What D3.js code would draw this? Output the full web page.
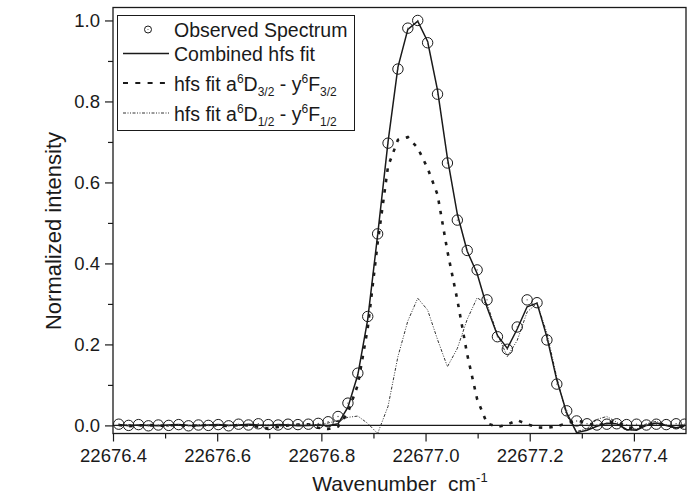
<!DOCTYPE html>
<html>
<head>
<meta charset="utf-8">
<script src="https://cdn.jsdelivr.net/npm/d3@7/dist/d3.min.js"></script>
<style>
  html, body { margin: 0; padding: 0; background: #fff; }
  svg { display: block; font-family: "Liberation Sans", Arial, sans-serif; }
</style>
</head>
<body>
<svg id="chart" width="695" height="502"></svg>
<script>
// Wavenumber grid (cm^-1) shared by the measurement and the fits
const wavenumber = [
  22676.411, 22676.430, 22676.449, 22676.468, 22676.487, 22676.507, 22676.526, 22676.545,
  22676.564, 22676.583, 22676.602, 22676.622, 22676.641, 22676.660, 22676.679, 22676.698,
  22676.717, 22676.736, 22676.755, 22676.775, 22676.794, 22676.813, 22676.832, 22676.851,
  22676.870, 22676.889, 22676.908, 22676.928, 22676.947, 22676.966, 22676.985, 22677.004,
  22677.023, 22677.042, 22677.061, 22677.080, 22677.099, 22677.118, 22677.138, 22677.157,
  22677.176, 22677.195, 22677.214, 22677.233, 22677.252, 22677.271, 22677.290, 22677.310,
  22677.329, 22677.348, 22677.367, 22677.386, 22677.405, 22677.424, 22677.443, 22677.462,
  22677.481, 22677.497
];

// Observed spectrum (normalized)
const observed = [
  0.003, 0.000, 0.002, -0.001, 0.001, 0.000, 0.002, -0.001,
  0.001, 0.000, 0.002, -0.001, 0.003, 0.001, 0.004, 0.002,
  0.001, 0.003, 0.002, 0.003, 0.005, 0.009, 0.022, 0.055,
  0.129, 0.269, 0.473, 0.697, 0.880, 0.981, 1.000, 0.945,
  0.818, 0.648, 0.507, 0.432, 0.384, 0.310, 0.219, 0.188,
  0.243, 0.310, 0.303, 0.211, 0.102, 0.036, 0.011, 0.004,
  0.001, 0.003, 0.004, 0.002, 0.003, 0.001, 0.003, 0.002,
  0.004, 0.003
];

// Combined hyperfine-structure fit
const combinedFit = [
  0.002, -0.001, 0.001, 0.000, -0.001, 0.001, 0.002, 0.000,
  -0.001, 0.001, 0.002, 0.000, 0.001, 0.003, 0.001, 0.000,
  0.002, 0.001, -0.001, 0.000, 0.001, -0.001, 0.004, 0.045,
  0.125, 0.262, 0.470, 0.700, 0.885, 0.978, 0.998, 0.948,
  0.828, 0.660, 0.522, 0.430, 0.375, 0.292, 0.222, 0.190,
  0.238, 0.293, 0.302, 0.218, 0.112, 0.031, -0.018, -0.012,
  -0.002, 0.005, 0.004, -0.010, -0.012, 0.000, 0.006, 0.000,
  -0.006, -0.002
];

// Component a6D3/2 - y6F3/2
const fitD32 = [
  0.001, -0.002, 0.000, 0.001, -0.001, 0.000, 0.001, -0.002,
  0.000, 0.001, 0.000, -0.002, 0.001, 0.000, -0.003, -0.008,
  -0.004, 0.000, 0.002, 0.003, -0.006, -0.009, -0.003, 0.032,
  0.100, 0.240, 0.450, 0.640, 0.705, 0.712, 0.685, 0.635,
  0.570, 0.430, 0.310, 0.175, 0.065, 0.005, -0.004, 0.002,
  0.013, 0.003, -0.005, -0.006, -0.002, 0.005, 0.012, 0.006,
  -0.002, 0.008, 0.010, -0.004, -0.008, 0.002, 0.006, 0.001,
  -0.004, 0.000
];

// Component a6D1/2 - y6F1/2
const fitD12 = [
  0.000, 0.002, -0.001, 0.001, 0.000, -0.002, 0.001, 0.000,
  0.002, -0.001, 0.000, 0.001, -0.001, 0.002, 0.000, 0.001,
  -0.002, 0.000, 0.001, 0.000, 0.002, 0.006, 0.012, 0.020,
  0.023, 0.005, -0.020, 0.047, 0.170, 0.258, 0.314, 0.285,
  0.212, 0.145, 0.190, 0.262, 0.315, 0.300, 0.225, 0.170,
  0.210, 0.280, 0.302, 0.228, 0.118, 0.024, -0.015, -0.008,
  0.015, 0.022, 0.008, -0.012, -0.010, 0.004, 0.010, 0.000,
  -0.008, -0.004
];

const xMajorTicks = [22676.4, 22676.6, 22676.8, 22677.0, 22677.2, 22677.4];
const xMinorTicks = [22676.5, 22676.7, 22676.9, 22677.1, 22677.3];
const yMajorTicks = [0.0, 0.2, 0.4, 0.6, 0.8, 1.0];
const yMinorTicks = [0.1, 0.3, 0.5, 0.7, 0.9];

const svg = d3.select("#chart");
const plot = { left: 113, right: 686, top: 7.5, bottom: 433.5 };

const x = d3.scaleLinear().domain([22676.4, 22677.5]).range([plot.left, plot.right]);
const y = d3.scaleLinear().domain([-0.02, 1.032]).range([plot.bottom, plot.top]);

const ink = "#1a1a1a";

svg.append("defs").append("clipPath").attr("id", "plotClip")
  .append("rect")
  .attr("x", plot.left).attr("y", plot.top)
  .attr("width", plot.right - plot.left).attr("height", plot.bottom - plot.top);

// Axes: major and minor ticks, outward
function styleAxis(g) {
  g.select(".domain").remove();
  g.selectAll(".tick line").attr("stroke", ink).attr("stroke-width", 1.2);
  g.selectAll(".tick text").attr("fill", ink).attr("font-size", 18.5)
    .attr("font-family", "'Liberation Sans', Arial, sans-serif");
}

svg.append("g")
  .attr("transform", `translate(0,${plot.bottom})`)
  .call(d3.axisBottom(x).tickValues(xMajorTicks).tickSize(8).tickPadding(7).tickFormat(d3.format(".1f")))
  .call(styleAxis)
  .call(g => g.selectAll(".tick text").attr("dy", "0.71em"));

svg.append("g")
  .attr("transform", `translate(0,${plot.bottom})`)
  .call(d3.axisBottom(x).tickValues(xMinorTicks).tickSize(5).tickFormat(""))
  .call(styleAxis);

svg.append("g")
  .attr("transform", `translate(${plot.left},0)`)
  .call(d3.axisLeft(y).tickValues(yMajorTicks).tickSize(8).tickPadding(5).tickFormat(d3.format(".1f")))
  .call(styleAxis);

svg.append("g")
  .attr("transform", `translate(${plot.left},0)`)
  .call(d3.axisLeft(y).tickValues(yMinorTicks).tickSize(5).tickFormat(""))
  .call(styleAxis);

// Plot frame
svg.append("rect")
  .attr("x", plot.left).attr("y", plot.top)
  .attr("width", plot.right - plot.left).attr("height", plot.bottom - plot.top)
  .attr("fill", "none").attr("stroke", ink).attr("stroke-width", 1.3);

const layer = svg.append("g").attr("clip-path", "url(#plotClip)");

// Zero reference line
layer.append("line")
  .attr("x1", plot.left).attr("x2", plot.right)
  .attr("y1", y(0)).attr("y2", y(0))
  .attr("stroke", ink).attr("stroke-width", 1.2);

const lineGen = values => d3.line()
  .x((d, i) => x(wavenumber[i]))
  .y(d => y(d))
  .curve(d3.curveLinear)(values);

// Component a6D1/2 - y6F1/2 : thin dash-dot-dot
layer.append("path")
  .attr("d", lineGen(fitD12))
  .attr("fill", "none").attr("stroke", "#333").attr("stroke-width", 1)
  .attr("stroke-dasharray", "3,1.5,1,1.5,1,1.5");

// Component a6D3/2 - y6F3/2 : heavy dashes
layer.append("path")
  .attr("d", lineGen(fitD32))
  .attr("fill", "none").attr("stroke", ink).attr("stroke-width", 2.6)
  .attr("stroke-dasharray", "3.5,7");

// Combined fit : solid
layer.append("path")
  .attr("d", lineGen(combinedFit))
  .attr("fill", "none").attr("stroke", ink).attr("stroke-width", 1.5);

// Observed spectrum : open circles with a faint centre dot
const pts = layer.append("g").selectAll("g")
  .data(observed)
  .join("g")
  .attr("transform", (d, i) => `translate(${x(wavenumber[i])},${y(d)})`);
pts.append("circle").attr("r", 5.2)
  .attr("fill", "none").attr("stroke", ink).attr("stroke-width", 1);
pts.append("circle").attr("r", 0.7).attr("fill", "#555");

// Axis titles
svg.append("text")
  .attr("transform", "translate(61,231) rotate(-90)")
  .attr("text-anchor", "middle")
  .attr("font-size", 22).attr("fill", ink)
  .text("Normalized intensity");

const xTitle = svg.append("text")
  .attr("x", 400).attr("y", 491)
  .attr("text-anchor", "middle")
  .attr("font-size", 21).attr("fill", ink)
  .attr("xml:space", "preserve");
xTitle.append("tspan").text("Wavenumber  cm");
xTitle.append("tspan").attr("font-size", 13).attr("dy", -9).text("-1");

// Legend
const legend = svg.append("g");
legend.append("rect")
  .attr("x", 117.5).attr("y", 15.5).attr("width", 237).attr("height", 115)
  .attr("fill", "#fff").attr("stroke", ink).attr("stroke-width", 1);

const symX0 = 123, symX1 = 169, textX = 174;

legend.append("circle").attr("cx", 148).attr("cy", 29.5).attr("r", 3.5)
  .attr("fill", "none").attr("stroke", ink).attr("stroke-width", 1);
legend.append("circle").attr("cx", 148).attr("cy", 29.5).attr("r", 0.6).attr("fill", "#555");
legend.append("line").attr("x1", symX0).attr("x2", symX1).attr("y1", 53.5).attr("y2", 53.5)
  .attr("stroke", ink).attr("stroke-width", 1.5);
legend.append("line").attr("x1", symX0).attr("x2", symX1).attr("y1", 83).attr("y2", 83)
  .attr("stroke", ink).attr("stroke-width", 2.2).attr("stroke-dasharray", "5,7.3");
legend.append("line").attr("x1", symX0).attr("x2", symX1).attr("y1", 113).attr("y2", 113)
  .attr("stroke", "#333").attr("stroke-width", 1).attr("stroke-dasharray", "3,1.5,1,1.5,1,1.5");

const legendFont = 19.5, smallFont = 12;
legend.append("text").attr("x", textX).attr("y", 37).attr("font-size", legendFont).attr("fill", ink)
  .text("Observed Spectrum");
legend.append("text").attr("x", textX).attr("y", 61).attr("font-size", legendFont).attr("fill", ink)
  .text("Combined hfs fit");

function hfsLabel(yBase, j) {
  const t = legend.append("text").attr("x", textX).attr("y", yBase)
    .attr("font-size", legendFont).attr("fill", ink);
  t.append("tspan").text("hfs fit a");
  t.append("tspan").attr("font-size", smallFont).attr("dy", -8).text("6");
  t.append("tspan").attr("dy", 8).text("D");
  t.append("tspan").attr("font-size", smallFont).attr("dy", 5).text(j);
  t.append("tspan").attr("dy", -5).text(" - y");
  t.append("tspan").attr("font-size", smallFont).attr("dy", -8).text("6");
  t.append("tspan").attr("dy", 8).text("F");
  t.append("tspan").attr("font-size", smallFont).attr("dy", 5).text(j);
}
hfsLabel(90.5, "3/2");
hfsLabel(121, "1/2");
</script>
</body>
</html>
